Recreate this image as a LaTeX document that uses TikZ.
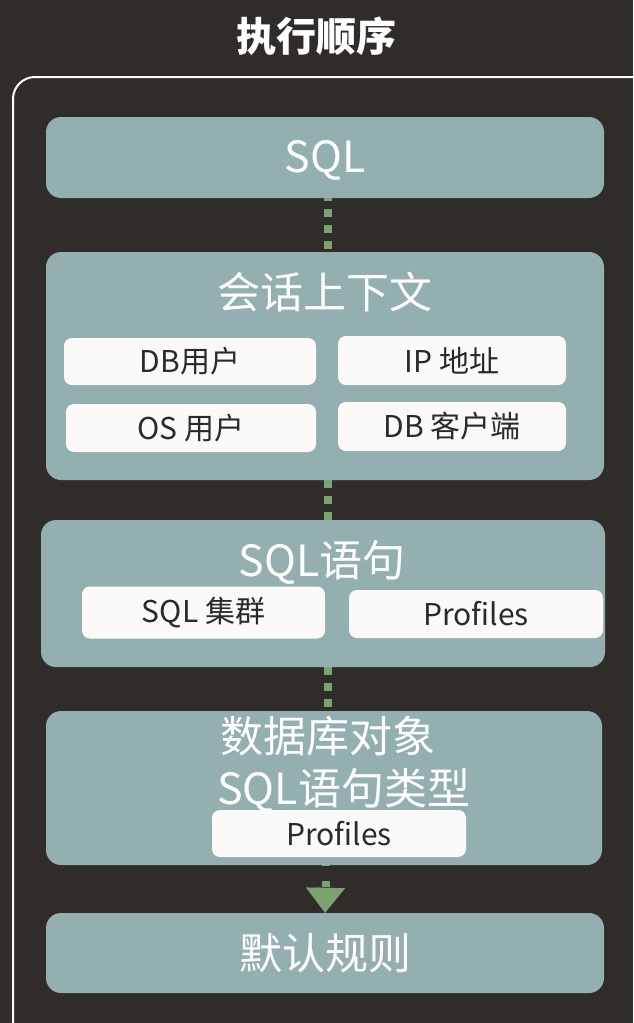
\documentclass[tikz,border=0pt]{standalone}
\usepackage{fontspec}
\setmainfont{Noto Sans CJK SC}
\usetikzlibrary{arrows.meta}
\definecolor{bgc}{HTML}{302C29}
\definecolor{boxc}{HTML}{93AFAF}
\definecolor{cardc}{HTML}{FBFAF8}
\definecolor{greenc}{HTML}{7BA36F}
\definecolor{inkc}{HTML}{2A2A2A}
\tikzset{
  bigbox/.style={fill=boxc, draw=none, rounded corners=15pt, inner sep=0pt},
  card/.style={fill=cardc, draw=none, rounded corners=8pt, inner sep=0pt, text=inkc, font=\fontsize{30}{36}\selectfont},
  bigtext/.style={text=white, inner sep=0pt, font=\fontsize{43}{50}\selectfont},
  dotline/.style={greenc, line width=8pt, dash pattern=on 8pt off 8pt},
}
\begin{document}
\begin{tikzpicture}[x=1pt,y=-1pt]
\useasboundingbox (0,0) rectangle (633,1023);
\fill[bgc] (0,0) rectangle (633,1023);
\begin{scope}
\clip (0,0) rectangle (633,1023);
\draw[white, line width=2pt, rounded corners=22pt] (13,77) rectangle (660,1045);
\end{scope}
\node[text=white, font=\bfseries\fontsize{40}{46}\selectfont, inner sep=0pt] (title) at (316,36) {执行顺序};

% connectors (drawn first, behind boxes)
\coordinate (c1a) at (327.5,193);
\coordinate (c1b) at (327.5,252);
\coordinate (c2a) at (327.5,480);
\coordinate (c2b) at (327.5,520);
\coordinate (c3a) at (327.5,667);
\coordinate (c3b) at (327.5,711);
\coordinate (c4a) at (325.5,860);
\coordinate (ab) at (325.5,888);
\draw[dotline] (c1a) -- (c1b);
\draw[dotline] (c2a) -- (c2b);
\draw[dotline] (c3a) -- (c3b);
\draw[greenc, line width=8pt, dash pattern=on 6pt off 15pt] (c4a) -- (ab);

% boxes
\node[bigbox, minimum width=558pt, minimum height=81pt] (sql) at (325,157.5) {};
\node[bigtext] (sqlt) at (325,160) {SQL};

\node[bigbox, minimum width=558pt, minimum height=228pt] (ctx) at (325,366) {};
\node[bigtext] (ctxt) at (325,292) {会话上下文};
\node[card, minimum width=252pt, minimum height=47pt] (dbuser) at (190,361.5) {DB用户};
\node[card, minimum width=228pt, minimum height=49pt] (ip) at (452,360.5) {IP 地址};
\node[card, minimum width=250pt, minimum height=48pt] (osuser) at (191,428) {OS 用户};
\node[card, minimum width=228pt, minimum height=49pt] (dbclient) at (452,426.5) {DB 客户端};

\node[bigbox, minimum width=564pt, minimum height=147pt] (stmt) at (323,593.5) {};
\node[bigtext] (stmtt) at (322,562) {SQL语句};
\node[card, minimum width=243pt, minimum height=52pt] (cluster) at (203.5,612.5) {SQL 集群};
\node[card, minimum width=254pt, minimum height=48pt] (prof1) at (476,614) {Profiles};

\node[bigbox, minimum width=556pt, minimum height=154pt] (obj) at (324,788) {};
\node[bigtext, anchor=west] (objt1) at (220,736) {数据库对象};
\node[bigtext, anchor=west] (objt2) at (217,790) {SQL语句类型};
\node[card, minimum width=254pt, minimum height=47pt] (prof2) at (339,833.5) {Profiles};

\node[bigbox, minimum width=558pt, minimum height=80pt] (def) at (325,953) {};
\node[bigtext] (deft) at (325,953) {默认规则};

\draw[greenc, line width=0.1pt, -{Triangle[length=25pt,width=39pt]}] (ab) -- (def.north);
\end{tikzpicture}
\end{document}
